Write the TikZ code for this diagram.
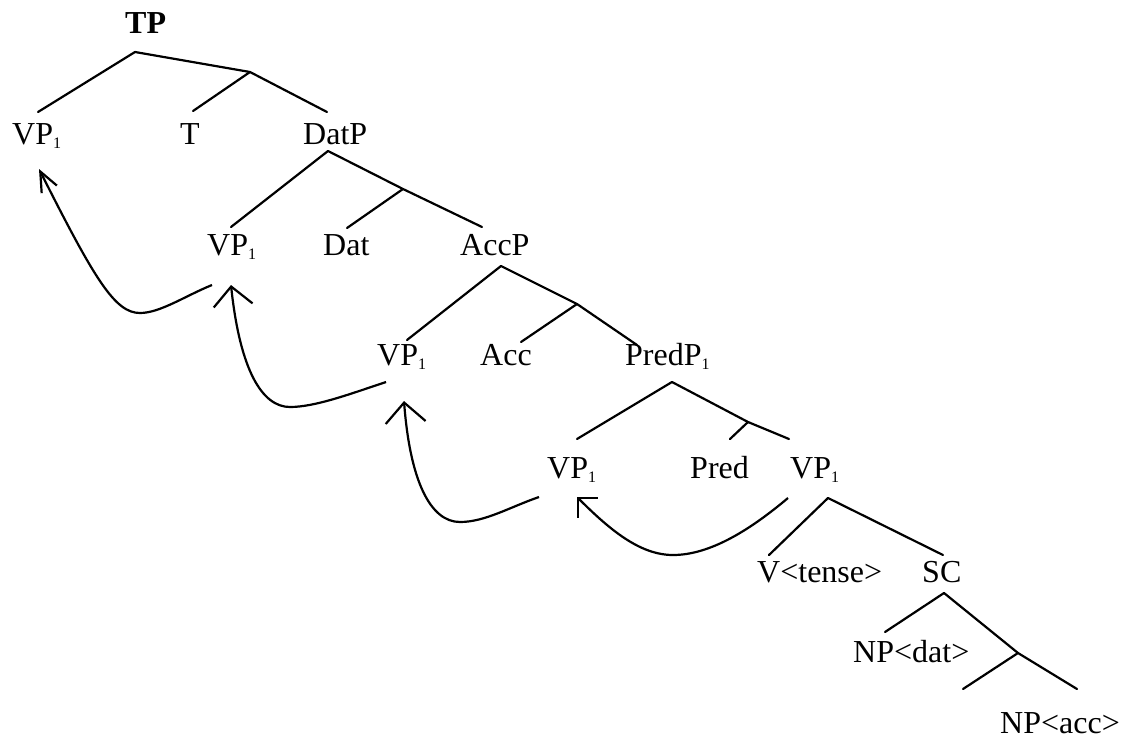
\documentclass[tikz,border=0pt]{standalone}
\usepackage{fontspec}
\setmainfont{Liberation Serif}
\usetikzlibrary{arrows.meta}
\newcommand{\subone}{\raisebox{-4pt}{\fontsize{16}{16}\selectfont 1}}
\begin{document}
\begin{tikzpicture}[x=1pt,y=-1pt,
  lbl/.style={anchor=base west,inner sep=0pt,font=\fontsize{32}{38}\selectfont},
  branch/.style={line width=2.2pt,line cap=round,line join=round},
  move/.style={line width=2.2pt},
  barb/.style 2 args={-{Straight Barb[length=#1,width=#2,line width=2.2pt]}}]
\useasboundingbox (0,0) rectangle (1135,739);

% labels
\node[lbl,font=\fontsize{32}{38}\selectfont\bfseries] (tp) at (125,33) {TP};
\node[lbl] (vpa) at (12,144) {VP\subone};
\node[lbl] (t) at (180,144) {T};
\node[lbl] (datp) at (303,144) {DatP};
\node[lbl] (vpb) at (207,255) {VP\subone};
\node[lbl] (dat) at (323,255) {Dat};
\node[lbl] (accp) at (460,255) {AccP};
\node[lbl] (vpc) at (377,365) {VP\subone};
\node[lbl] (acc) at (480,365) {Acc};
\node[lbl] (predp) at (625,365) {PredP\subone};
\node[lbl] (vpd) at (547,478) {VP\subone};
\node[lbl] (pred) at (690,478) {Pred};
\node[lbl] (vpe) at (790,478) {VP\subone};
\node[lbl] (vtense) at (757,582) {V<tense>};
\node[lbl] (sc) at (922,582) {SC};
\node[lbl] (npdat) at (853,662) {NP<dat>};
\node[lbl] (npacc) at (1000,733) {NP<acc>};

% branching points and branch ends
\coordinate (tpA) at (135,52);   \coordinate (tpB) at (250,72);
\coordinate (vpaT) at (38,112);  \coordinate (tT) at (193,111);
\coordinate (datpT) at (327,112);
\coordinate (datA) at (328,151); \coordinate (datB) at (403,189);
\coordinate (vpbT) at (231,227); \coordinate (datT) at (347,228);
\coordinate (accpT) at (482,227);
\coordinate (accA) at (501,266); \coordinate (accB) at (577,304);
\coordinate (vpcT) at (407,340); \coordinate (accT) at (521,342);
\coordinate (predpT) at (637,345);
\coordinate (predA) at (672,382); \coordinate (predB) at (748,422);
\coordinate (vpdT) at (577,439);  \coordinate (predT) at (730,439);
\coordinate (vpeT) at (789,439);
\coordinate (vpeA) at (828,498);
\coordinate (vtenseT) at (769,555); \coordinate (scT) at (943,555);
\coordinate (scA) at (944,593);  \coordinate (scB) at (1018,653);
\coordinate (npdatT) at (885,632);
\coordinate (emptyT) at (963,689); \coordinate (npaccT) at (1077,689);

% tree branches
\draw[branch] (vpaT) -- (tpA) -- (tpB) -- (datpT);
\draw[branch] (tpB) -- (tT);
\draw[branch] (vpbT) -- (datA) -- (datB) -- (accpT);
\draw[branch] (datB) -- (datT);
\draw[branch] (vpcT) -- (accA) -- (accB) -- (predpT);
\draw[branch] (accB) -- (accT);
\draw[branch] (vpdT) -- (predA) -- (predB) -- (vpeT);
\draw[branch] (predB) -- (predT);
\draw[branch] (vtenseT) -- (vpeA) -- (scT);
\draw[branch] (npdatT) -- (scA) -- (scB) -- (npaccT);
\draw[branch] (scB) -- (emptyT);

% movement arrows
\coordinate (m1s) at (212,285); \coordinate (m1b) at (140,313); \coordinate (m1t) at (39,169);
\coordinate (m2s) at (386,382); \coordinate (m2b) at (290,407); \coordinate (m2t) at (231,285);
\coordinate (m3s) at (539,497); \coordinate (m3b) at (460,522); \coordinate (m3t) at (404,401);
\coordinate (m4s) at (788,498); \coordinate (m4b) at (673,555); \coordinate (m4t) at (577,497);

\draw[move,barb={20pt}{17pt}] (m1s) .. controls (185,296) and (160,313) .. (m1b)
  .. controls (115,313) and (95,280) .. (m1t);
\draw[move,barb={19pt}{39pt}] (m2s) .. controls (350,394) and (315,407) .. (m2b)
  .. controls (262,407) and (240,370) .. (m2t);
\draw[move,barb={20pt}{40pt}] (m3s) .. controls (510,507) and (485,522) .. (m3b)
  .. controls (430,522) and (410,480) .. (m3t);
\draw[move,barb={14pt}{28pt}] (m4s) .. controls (750,530) and (710,555) .. (m4b)
  .. controls (640,555) and (610,530) .. (m4t);
\end{tikzpicture}
\end{document}
